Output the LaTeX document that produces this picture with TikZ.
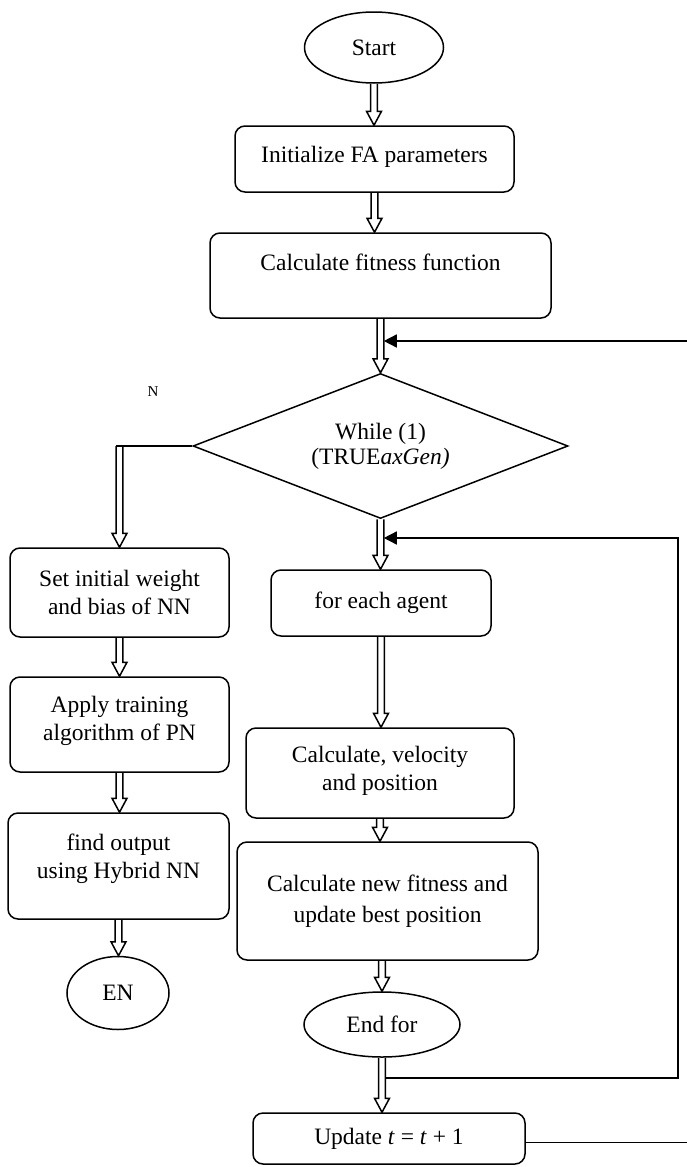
\documentclass[tikz,border=0pt]{standalone}
\usepackage{fontspec}
\setmainfont{Liberation Serif}
\usetikzlibrary{shapes.geometric, arrows.meta, calc}

% extra depth on the last line lifts the text inside its box
\newcommand\dropdepth[1]{\rule[-#1]{0pt}{0pt}}

\tikzset{
  base/.style={draw, line width=1.5pt, inner sep=0pt, align=center,
    font=\fontsize{23.5pt}{28.5pt}\selectfont},
  proc/.style={base, rectangle, rounded corners=10pt},
  term/.style={base, ellipse},
  decide/.style={base, diamond, aspect=2.6},
  % hollow block arrow: double shaft with an open triangular head
  hollow/.style={line width=1.5pt, line join=miter,
    to path={let \p1=(\tikztostart), \p2=(\tikztotarget) in
      (\x1-3.3pt,\y1) -- (\x1-3.3pt,\y2+14pt) -- (\x1-7.5pt,\y2+14pt)
      -- (\x1,\y2) -- (\x1+7.5pt,\y2+14pt) -- (\x1+3.3pt,\y2+14pt)
      -- (\x1+3.3pt,\y1)}},
  backline/.style={line width=1.5pt, -{Triangle[length=13pt,width=13pt]}},
  plainline/.style={line width=1.5pt},
}

\begin{document}
\begin{tikzpicture}[x=1pt, y=-1pt]
\useasboundingbox (0,0) rectangle (686,1167);
\fill[white] (0,0) rectangle (686,1167);

% main column
\node[term, minimum width=139pt, minimum height=71pt] (start) at (374,47.5) {Start};
\node[proc, minimum width=279pt, minimum height=66pt] (init) at (374.5,159) {Initialize FA parameters\dropdepth{10pt}};
\node[proc, minimum width=341pt, minimum height=85pt] (calc) at (380.5,275.5) {Calculate fitness function\dropdepth{27pt}};
\node[decide, minimum width=375pt, minimum height=145pt] (loopw) at (380.5,446) {While (1)\\[-3.5pt](TRUE\textit{axGen)}};
\node[font=\fontsize{15pt}{18pt}\selectfont] (nlab) at (153,392) {N};

% left branch
\node[proc, minimum width=219pt, minimum height=89pt] (setw) at (119.5,592.5) {Set initial weight\\and bias of NN};
\node[proc, minimum width=219pt, minimum height=95pt] (apply) at (119.5,724.5) {Apply training\\algorithm of PN\dropdepth{12pt}};
\node[proc, minimum width=221pt, minimum height=106pt] (find) at (118.5,866) {find output\\using Hybrid NN\dropdepth{20pt}};
\node[term, minimum width=102pt, minimum height=73pt] (en) at (118,993) {EN};

% inner loop
\node[proc, minimum width=220pt, minimum height=66pt] (each) at (381,603) {for each agent};
\node[proc, minimum width=268pt, minimum height=90pt] (vel) at (380,773) {Calculate, velocity\\and position\dropdepth{9pt}};
\node[proc, minimum width=301pt, minimum height=118pt] (newfit) at (387.5,901) {Calculate new fitness and\\[3pt]update best position};
\node[term, minimum width=156pt, minimum height=65pt] (endf) at (382,1024.5) {End for};
\node[proc, minimum width=272pt, minimum height=51pt] (upd) at (389,1138.5) {Update \textit{t} = \textit{t} + 1};

% forward flow
\draw[hollow] (start.south) to (init.north);
\draw[hollow] (init.south) to (calc.north);
\draw[hollow] (calc.south) to (loopw.north);
\draw[hollow] (loopw.south) to (each.north);
\draw[hollow] (each.south) to (vel.north);
\draw[hollow] (vel.south) to (newfit.north);
\draw[hollow] (endf.north |- newfit.south) to (endf.north);
\draw[hollow] (endf.south) to (upd.north);

\draw[plainline] (loopw.west) -- ([xshift=-3.3pt]setw.north |- loopw.west);
\draw[hollow] (setw.north |- loopw.west) to (setw.north);
\draw[hollow] (setw.south) to (apply.north);
\draw[hollow] (apply.south) to (find.north);
\draw[hollow] (find.south) to (en.north);

% feedback lines
\coordinate (inB) at (385.3,1078);
\coordinate (inR) at (678,1078);
\coordinate (inT) at (383.8,538);
\draw[backline] (inB) -- (inR) -- (inR |- inT) -- (inT);

\coordinate (outR) at (692,1142.5);
\coordinate (outT) at (383.8,341);
\draw[backline] ([yshift=-4pt]upd.east) -- (outR) -- (outR |- outT) -- (outT);
\end{tikzpicture}
\end{document}
